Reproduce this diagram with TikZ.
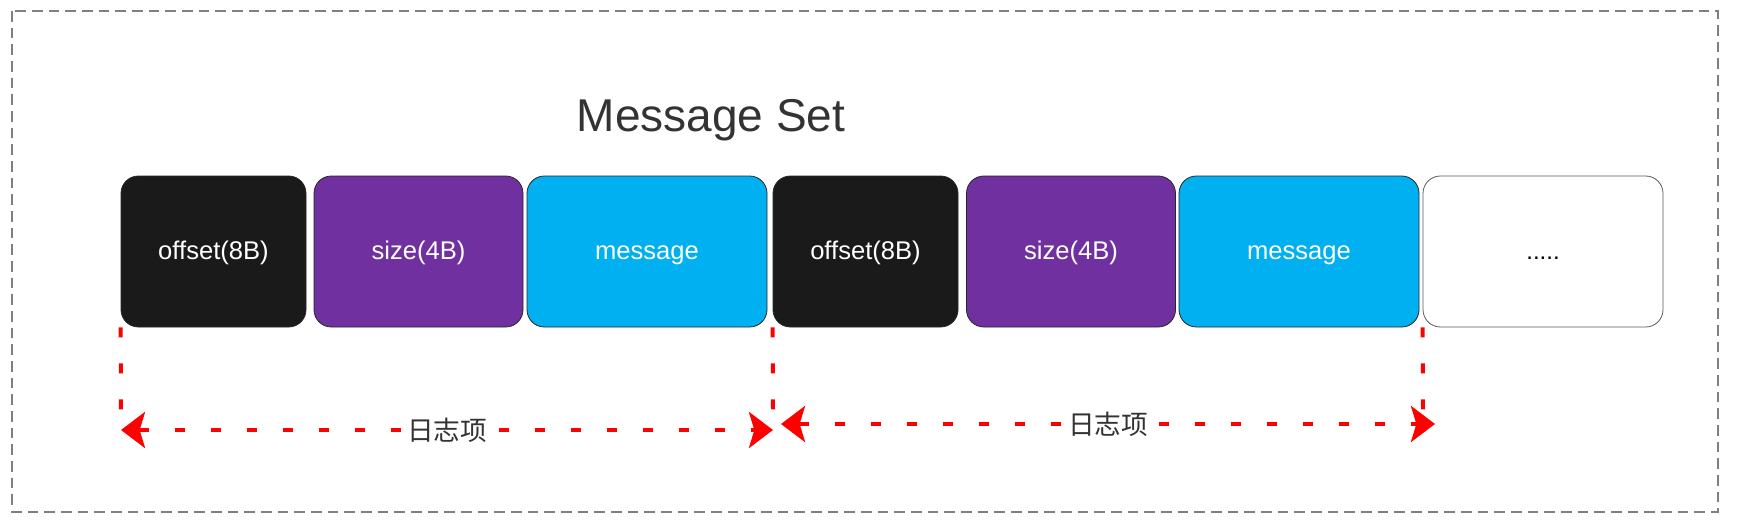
\documentclass[tikz,border=0pt]{standalone}
\usepackage{fontspec}
\setmainfont{Liberation Sans}
\newfontfamily\cjkfont{Noto Sans CJK SC}
\usepackage{tikz}
\usetikzlibrary{arrows.meta}
\usepackage{xcolor}
\definecolor{ColOffset}{RGB}{26,26,26}
\definecolor{ColSize}{RGB}{112,48,160}
\definecolor{ColMsg}{RGB}{0,176,240}
\definecolor{ColText}{RGB}{51,51,51}
\definecolor{ColFrame}{RGB}{128,128,128}
\tikzstyle{FieldBox}=[rectangle,rounded corners=13pt,draw=black!85,line width=0.6pt,
minimum height=113.25pt,inner sep=0pt,text=white,text height=1.25em,text depth=0.1em,
font=\fontsize{19.2}{23}\selectfont]
\tikzstyle{OffsetBox}=[FieldBox,fill=ColOffset,minimum width=138.75pt]
\tikzstyle{SizeBox}=[FieldBox,fill=ColSize,minimum width=156.75pt]
\tikzstyle{MsgBox}=[FieldBox,fill=ColMsg,minimum width=180pt]
\tikzstyle{MoreBox}=[FieldBox,fill=white,draw=black!65,text=black,minimum width=180pt,
font=\fontsize{18}{22}\selectfont]
\tikzstyle{FrameLine}=[ColFrame,line width=1.5pt,dash pattern=on 8pt off 4.5pt]
\tikzstyle{GuideLine}=[red,line width=3pt,dash pattern=on 7.5pt off 19.5pt]
\tikzstyle{SpanLine}=[GuideLine,{Stealth[length=18pt,width=27pt,inset=4pt]}-{Stealth[length=18pt,width=27pt,inset=4pt]}]
\tikzstyle{SpanLabel}=[fill=white,inner sep=1pt,text=ColText,font=\cjkfont\fontsize{20}{24}\selectfont]

\begin{document}
\begin{tikzpicture}[x=0.75pt,y=-0.75pt]
        \useasboundingbox(0,0)rectangle(1738,528);
        \draw[FrameLine](12,11)rectangle(1718,512);
        \node[anchor=base,text=ColText,font=\fontsize{34.5}{40}\selectfont](title)at(711,131){Message Set};
        \node[OffsetBox](off1)at(213.5,251.5){offset(8B)};
        \node[SizeBox](size1)at(418.5,251.5){size(4B)};
        \node[MsgBox](msg1)at(647,251.5){message};
        \node[OffsetBox](off2)at(865.5,251.5){offset(8B)};
        \node[SizeBox](size2)at(1071,251.5){size(4B)};
        \node[MsgBox](msg2)at(1299,251.5){message};
        \node[MoreBox](more)at(1543,251.5){.....};
        \coordinate(g1)at(121,410);
        \coordinate(g2)at(773,410);
        \coordinate(g3)at(1423,410);
        \draw[GuideLine](off1.south west)--(g1);
        \draw[GuideLine](off2.south west)--(g2);
        \draw[GuideLine](more.south west)--(g3);
        \coordinate(s1a)at(121,430);
        \coordinate(s1b)at(773,430);
        \coordinate(s2a)at(781,424);
        \coordinate(s2b)at(1435,424);
        \draw[SpanLine](s1a)--node[SpanLabel](lab1){日志项}(s1b);
        \draw[SpanLine](s2a)--node[SpanLabel](lab2){日志项}(s2b);
    \end{tikzpicture}
\end{document}
